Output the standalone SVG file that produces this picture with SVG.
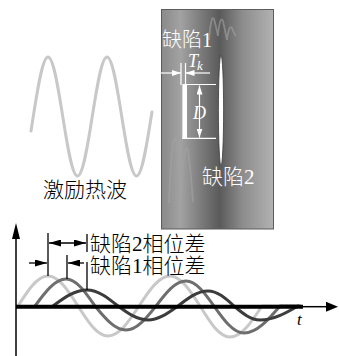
<svg xmlns="http://www.w3.org/2000/svg" width="339" height="356" viewBox="0 0 339 356">
  <style>
    .cn { font-family: "Liberation Serif", "Noto Sans CJK SC", serif; font-weight: 300; }
    .math { font-family: "Liberation Serif", serif; font-style: italic; }
    .wht { fill: #ffffff; }
    .blk { fill: #000000; }
    .dimw { stroke: #ffffff; stroke-width: 1.2; fill: none; }
    .dimk { stroke: #000000; stroke-width: 1.3; fill: none; }
    .wave { fill: none; stroke-width: 3; stroke-linejoin: round; stroke-linecap: round; }
    .ghost { fill: none; stroke: #a2a2a2; stroke-width: 1.8; opacity: 0.6; }
  </style>
  <defs>
    <linearGradient id="steel" x1="0" y1="0" x2="1" y2="0">
      <stop offset="0" stop-color="#8a8a8a"/>
      <stop offset="0.17" stop-color="#a2a2a2"/>
      <stop offset="0.36" stop-color="#7a7a7a"/>
      <stop offset="0.52" stop-color="#5a5a5a"/>
      <stop offset="0.72" stop-color="#8c8c8c"/>
      <stop offset="1" stop-color="#b2b2b2"/>
    </linearGradient>
    <marker id="ahW" markerUnits="userSpaceOnUse" markerWidth="9" markerHeight="6" refX="9" refY="3" orient="auto-start-reverse">
      <path d="M0,0 L9,3 L0,6 z" fill="#ffffff"/>
    </marker>
    <marker id="ahK" markerUnits="userSpaceOnUse" markerWidth="12" markerHeight="7" refX="12" refY="3.5" orient="auto-start-reverse">
      <path d="M0,0 L12,3.5 L0,7 z" fill="#000000"/>
    </marker>
  </defs>

  <!-- incoming thermal wave -->
  <g id="excitation-wave">
    <path class="wave" stroke="#c8c8c8" d="M31,131 L33.25,116.5 C38.06,86 42.66,57 48,57 C53.34,57 57.94,86 62.75,116.5 C67.56,147 72.16,176 77.5,176 C82.84,176 87.44,147 92.25,116.5 C97.06,86 101.66,57 107,57 C112.34,57 116.94,86 121.75,116.5 C126.56,147 131.16,176 136.5,176 C141.84,176 146.44,147 151.25,116.5 L152,112"/>
    <text class="cn blk" x="43" y="197" font-size="21">激励热波</text>
  </g>

  <!-- test specimen -->
  <g id="specimen">
    <rect x="161.5" y="9.5" width="112" height="219.5" fill="url(#steel)" stroke="#5c5c5c" stroke-width="1"/>
    <path class="ghost" d="M209,40 Q211,14 214,19 Q216,26 218,36 Q220,14 223,21 Q225,30 227,40 Q229,24 232,28 Q234,34 236,36"/>
    <path class="ghost" d="M169,203 Q172,128 176,140 Q178,152 181,200 Q184,138 188,150 Q190,162 193,202"/>
  </g>

  <g id="defect1">
    <rect x="182" y="84.5" width="5" height="54" fill="#ffffff"/>
    <line x1="182.3" y1="85" x2="182.3" y2="138" stroke="#c9c9c9" stroke-width="0.8"/>
    <text class="cn wht" x="162" y="47" font-size="20">缺陷1</text>
  </g>

  <g id="defect2">
    <ellipse cx="221" cy="110.5" rx="2.6" ry="55.5" fill="#ffffff" stroke="#3a3a3a" stroke-width="0.8"/>
    <text class="cn wht" x="202" y="184" font-size="21">缺陷2</text>
  </g>

  <!-- thickness and depth dimensions of defect 1 -->
  <g id="dimensions">
    <line class="dimw" x1="181" y1="63" x2="181" y2="85"/>
    <line class="dimw" x1="185.5" y1="63" x2="185.5" y2="85"/>
    <line class="dimw" x1="160" y1="73" x2="181" y2="73" marker-end="url(#ahW)"/>
    <line class="dimw" x1="210" y1="73" x2="185.5" y2="73" marker-end="url(#ahW)"/>
    <text class="math wht" x="188" y="67" font-size="18">T</text>
    <text class="math wht" x="197" y="70" font-size="13">k</text>
    <line class="dimw" x1="183" y1="84.5" x2="216" y2="84.5"/>
    <line class="dimw" x1="182" y1="138.3" x2="216" y2="138.3"/>
    <line class="dimw" x1="199.5" y1="85.5" x2="199.5" y2="137.5" marker-start="url(#ahW)" marker-end="url(#ahW)"/>
    <text class="math wht" x="199.5" y="119" font-size="18" text-anchor="middle">D</text>
  </g>

  <!-- response signals -->
  <g id="signals">
    <path class="wave" stroke="#c8c8c8" d="M18,306 C27.8,290.6 37.1,276 48,276 C58.9,276 68.2,290.6 78,306 C87.8,321.4 97.1,336 108,336 C119.2,336 128.9,321.4 139,306 C149.1,290.6 158.8,276 170,276 C180.9,276 190.2,290.6 200,306 C209.8,321.9 219.1,337 230,337 C241.6,337 251.6,321.9 262,306 L300,306"/>
    <path class="wave" stroke="#6e6e6e" d="M35,306 C45.1,292.2 54.8,279 66,279 C76.5,279 85.5,292.2 95,306 C105.1,318.3 114.8,330 126,330 C136.9,330 146.2,318.3 156,306 C165.8,293.2 175.1,281 186,281 C196.1,281 204.9,293.2 214,306 C223.8,319.8 233.1,333 244,333 C257,333 268.3,319.8 280,306 L300,306"/>
    <path class="wave" stroke="#3c3c3c" d="M53,306 C64.1,297.8 74.7,290 87,290 C98.2,290 107.9,297.8 118,306 C127.8,313.2 137.1,320 148,320 C158.9,320 168.2,312.8 178,306 C187.8,298.3 197.1,291 208,291 C217.4,291 225.5,298.3 234,306 C242.5,313.2 250.6,320 260,320 C273.8,320 285.6,313.2 298,306"/>
  </g>

  <!-- axes -->
  <g id="axes">
    <line x1="16" y1="236" x2="16" y2="356" stroke="#000" stroke-width="1.5"/>
    <path d="M16,223 L20,239 L12,239 z" fill="#000"/>
    <line x1="16" y1="306.7" x2="303" y2="306.7" stroke="#000" stroke-width="4"/>
    <line x1="303" y1="306.7" x2="328" y2="306.7" stroke="#000" stroke-width="1.5"/>
    <path d="M338,306.7 L326,301.7 L326,311.7 z" fill="#000"/>
    <text class="math blk" x="297" y="325" font-size="17">t</text>
  </g>

  <!-- phase difference markers -->
  <g id="phase-markers">
    <line class="dimk" x1="48" y1="233" x2="48" y2="276"/>
    <line class="dimk" x1="67" y1="255" x2="67" y2="279"/>
    <line class="dimk" x1="87" y1="262" x2="87" y2="290"/>
    <line class="dimk" x1="87" y1="234" x2="87" y2="252"/>
    <line class="dimk" x1="49" y1="243" x2="86" y2="243" marker-start="url(#ahK)" marker-end="url(#ahK)"/>
    <line class="dimk" x1="29" y1="263" x2="47" y2="263" marker-end="url(#ahK)"/>
    <line class="dimk" x1="84" y1="263" x2="68" y2="263" marker-end="url(#ahK)"/>
    <text class="cn blk" x="90" y="251" font-size="21">缺陷2相位差</text>
    <text class="cn blk" x="90" y="273" font-size="21">缺陷1相位差</text>
  </g>
</svg>
